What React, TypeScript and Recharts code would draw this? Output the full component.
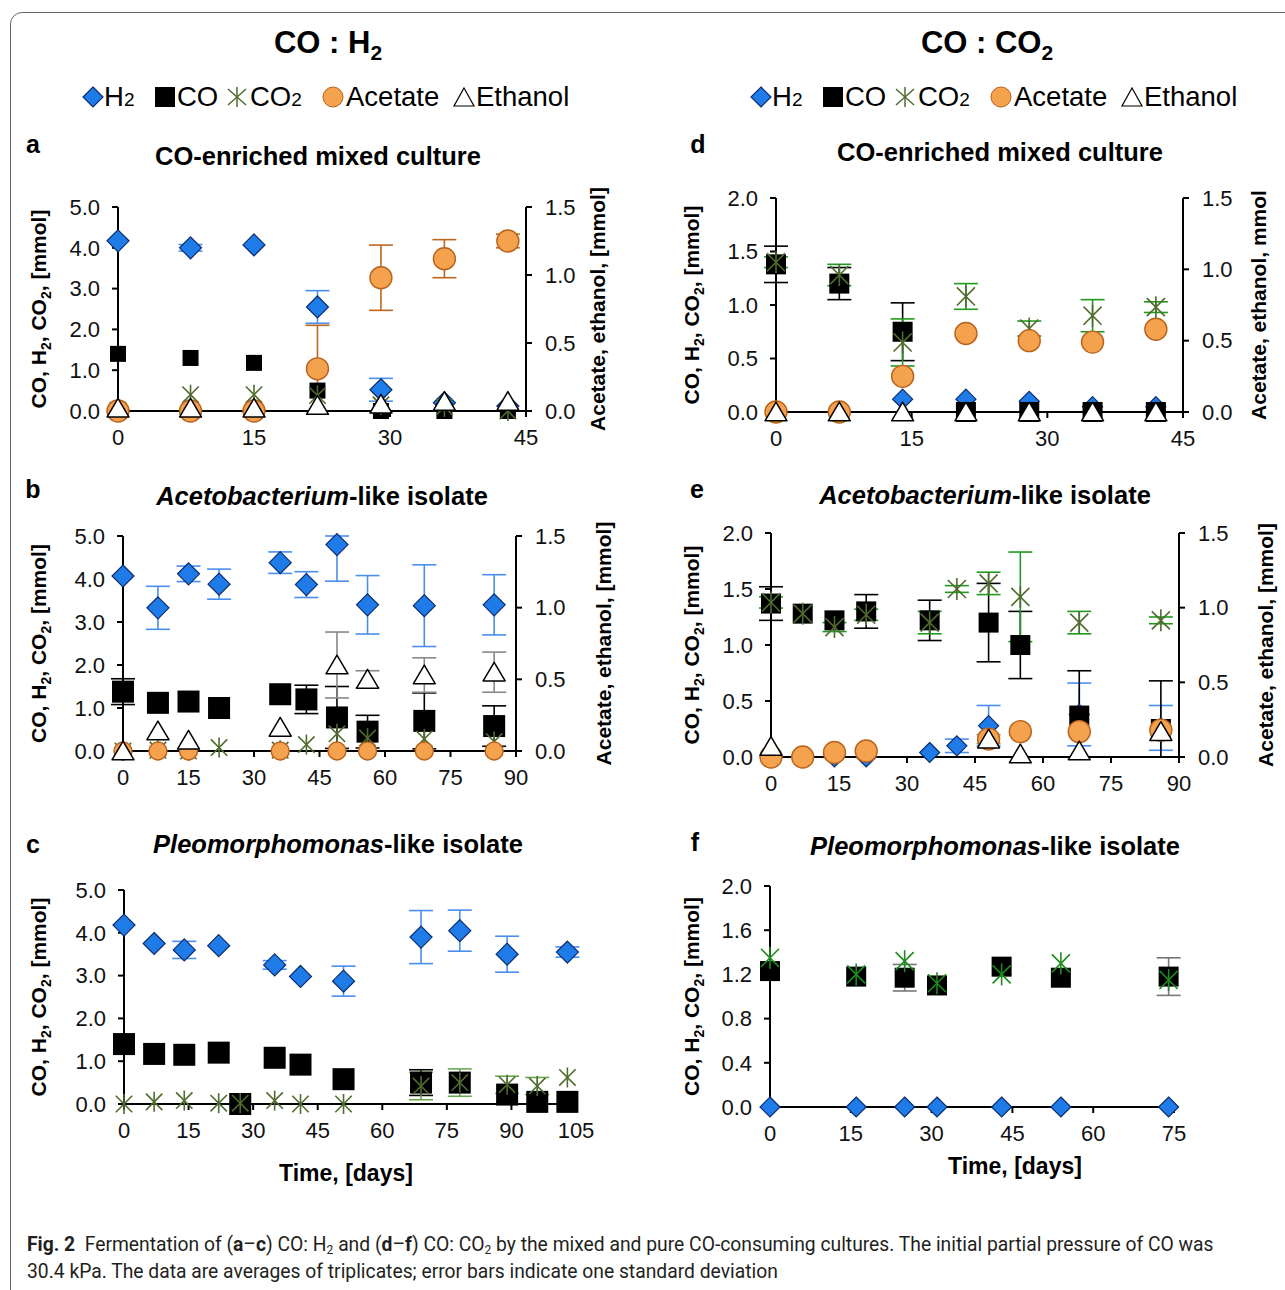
import React from "react";
import { ScatterChart, Scatter, XAxis, YAxis, ErrorBar } from "recharts";

const FONT = "'Liberation Sans', Arial, Helvetica, sans-serif";

// a – CO:H2, CO-enriched mixed culture (gases left axis, acetate/ethanol right axis)
const A_DAYS = [0, 8, 15, 22, 29, 36, 43];
const A_H2 = [4.17, 4.0, 4.07, 2.55, 0.52, 0.2, 0.12];
const A_H2_SD = [0, 0.08, 0, 0.4, 0.28, 0, 0];
const A_CO = [1.4, 1.3, 1.18, 0.5, 0.0, 0.0, 0.0];
const A_CO2 = [0.02, 0.4, 0.4, 0.38, 0.15, 0.1, 0.0];
const A_ACE = [0.0, 0.0, 0.0, 0.31, 0.98, 1.12, 1.25];
const A_ACE_SD = [0, 0, 0, 0.32, 0.24, 0.14, 0.05];
const A_ETH = [0.02, 0.02, 0.02, 0.04, 0.05, 0.07, 0.07];

// b – CO:H2, Acetobacterium-like isolate
const B_DAYS = [0, 8, 15, 22, 36, 42, 49, 56, 69, 85];
const B_H2 = [4.07, 3.33, 4.12, 3.88, 4.38, 3.87, 4.8, 3.4, 3.38, 3.4];
const B_H2_SD = [0, 0.5, 0.18, 0.35, 0.25, 0.3, 0.85, 0.68, 0.95, 0.7];
const B_CO = [1.38, 1.12, 1.15, 1.0, 1.32, 1.2, 0.78, 0.45, 0.7, 0.58];
const B_CO_SD = [0.3, 0, 0, 0, 0, 0.33, 0.72, 0.38, 0.65, 0.47];
const B_CO2 = [0.0, 0.02, 0.0, 0.08, 0.02, 0.15, 0.4, 0.3, 0.28, 0.22];
const B_ACE = [0.0, 0.0, 0.0, null, 0.0, null, 0.0, 0.0, 0.0, 0.0];
const B_ETH = [0.0, 0.14, 0.075, null, 0.165, null, 0.6, 0.5, 0.53, 0.55];
const B_ETH_SD = [0, 0, 0, 0, 0, 0, 0.23, 0.06, 0.12, 0.14];

// c – CO:H2, Pleomorphomonas-like isolate
const C_DAYS = [0, 7, 14, 22, 27, 35, 41, 51, 69, 78, 89, 96, 103];
const C_H2 = [4.18, 3.75, 3.6, 3.7, null, 3.25, 2.98, 2.87, 3.9, 4.05, 3.5, null, 3.55];
const C_H2_SD = [0, 0, 0.2, 0, 0, 0.1, 0, 0.35, 0.62, 0.48, 0.42, 0, 0.12];
const C_CO = [1.4, 1.17, 1.15, 1.2, 0.0, 1.08, 0.92, 0.58, 0.5, 0.5, 0.22, 0.05, 0.05];
const C_CO_SD = [0, 0, 0, 0, 0, 0, 0, 0, 0.3, 0, 0, 0, 0];
const C_CO2 = [0.0, 0.05, 0.08, 0.02, 0.02, 0.08, 0.0, 0.0, 0.42, 0.5, 0.45, 0.42, 0.62];
const C_CO2_SD = [0, 0, 0, 0, 0, 0, 0, 0, 0.32, 0.32, 0.2, 0.2, 0];

// d – CO:CO2, CO-enriched mixed culture
const D_DAYS = [0, 7, 14, 21, 28, 35, 42];
const D_H2 = [0.0, 0.0, 0.12, 0.12, 0.1, 0.05, 0.05];
const D_CO = [1.38, 1.2, 0.75, 0.0, 0.0, 0.0, 0.0];
const D_CO_SD = [0.17, 0.15, 0.27, 0, 0, 0, 0];
const D_CO2 = [1.4, 1.28, 0.65, 1.08, 0.78, 0.9, 0.98];
const D_CO2_SD = [0.05, 0.1, 0.22, 0.12, 0.07, 0.15, 0.05];
const D_ACE = [0.0, 0.0, 0.25, 0.55, 0.5, 0.49, 0.58];
const D_ETH = [0.0, 0.0, 0.0, 0.0, 0.0, 0.0, 0.0];

// e – CO:CO2, Acetobacterium-like isolate
const E_DAYS = [0, 7, 14, 21, 35, 41, 48, 55, 68, 86];
const E_H2 = [0.0, null, 0.0, 0.0, 0.04, 0.1, 0.28, null, 0.38, 0.26];
const E_H2_SD = [0, 0, 0, 0, 0, 0.06, 0.18, 0, 0.28, 0.2];
const E_CO = [1.37, 1.28, 1.22, 1.3, 1.22, null, 1.2, 1.0, 0.37, 0.25];
const E_CO_SD = [0.15, 0, 0, 0.15, 0.18, 0, 0.35, 0.3, 0.4, 0.43];
const E_CO2 = [1.38, 1.28, 1.16, 1.27, 1.2, 1.5, 1.55, 1.43, 1.2, 1.22];
const E_CO2_SD = [0.05, 0, 0.04, 0.05, 0.1, 0.03, 0.1, 0.4, 0.1, 0.03];
const E_ACE = [0.0, 0.0, 0.03, 0.04, null, null, 0.12, 0.17, 0.17, 0.18];
const E_ETH = [0.07, null, null, null, null, null, 0.12, 0.02, 0.04, 0.17];
const E_ETH_SD = [0, 0, 0, 0, 0, 0, 0.03, 0, 0, 0];

// f – CO:CO2, Pleomorphomonas-like isolate
const F_DAYS = [0, 16, 25, 31, 43, 54, 74];
const F_H2 = [0.0, 0.0, 0.0, 0.0, 0.0, 0.0, 0.0];
const F_CO = [1.23, 1.18, 1.17, 1.1, 1.27, 1.17, 1.18];
const F_CO_SD = [0, 0, 0.12, 0, 0, 0, 0.17];
const F_CO2 = [1.35, 1.2, 1.32, 1.12, 1.2, 1.3, 1.15];

// axis ticks
const X45 = [0, 15, 30, 45];
const X90 = [0, 15, 30, 45, 60, 75, 90];
const X105 = [0, 15, 30, 45, 60, 75, 90, 105];
const X75 = [0, 15, 30, 45, 60, 75];
const Y5 = [0, 1, 2, 3, 4, 5];
const Y2 = [0, 0.5, 1, 1.5, 2];
const Y2F = [0, 0.4, 0.8, 1.2, 1.6, 2];
const R15 = [0, 0.5, 1, 1.5];

type Val = number | null;
const pts = (days: number[], vals: Val[], sd: Val[] | undefined, max: number) =>
  days.flatMap((d, i) => {
    const v = vals[i];
    if (v == null) return [];
    const s = sd ? sd[i] ?? 0 : 0;
    // keep the bars inside the axis range, as in the original figure
    return [{ x: d, y: v, e: s ? [Math.min(s, v), Math.min(s, max - v)] : 0 }];
  });

// markers
const diamond = (r: number) => (p: any) => (
  <path d={`M${p.cx},${p.cy - r}L${p.cx + r},${p.cy}L${p.cx},${p.cy + r}L${p.cx - r},${p.cy}Z`}
    fill="#1f7be8" stroke="#0b2c6e" strokeWidth={1.2} />
);
const square = (h: number) => (p: any) => (
  <rect x={p.cx - h} y={p.cy - h} width={2 * h} height={2 * h} fill="#000" />
);
const star = (r: number, c: string) => (p: any) => {
  const d = r * 0.82;
  return (
    <g stroke={c} strokeWidth={1.6}>
      <line x1={p.cx - d} y1={p.cy - d} x2={p.cx + d} y2={p.cy + d} />
      <line x1={p.cx - d} y1={p.cy + d} x2={p.cx + d} y2={p.cy - d} />
      <line x1={p.cx} y1={p.cy - r} x2={p.cx} y2={p.cy + r} />
    </g>
  );
};
const circle = (r: number) => (p: any) => (
  <circle cx={p.cx} cy={p.cy} r={r} fill="#f5a24f" stroke="#b8621c" strokeWidth={1.4} />
);
const tri = (r: number) => (p: any) => (
  <path d={`M${p.cx},${p.cy - r * 0.9}L${p.cx + r},${p.cy + r * 0.8}L${p.cx - r},${p.cy + r * 0.8}Z`}
    fill="#fff" stroke="#000" strokeWidth={1.5} strokeLinejoin="round" />
);

const OLIVE = "#4f6b2e";
const BLUE_ERR = "#4a8ef0";
const ORANGE_ERR = "#c0651c";

type Series = { vals: Val[]; sd?: Val[]; right?: boolean; shape: (p: any) => React.ReactElement; err: string };
type Spec = {
  left: number; top: number; width: number; height: number;
  days: number[]; xMax: number; xTicks: number[];
  yMax: number; yTicks: number[]; rMax?: number; rTicks?: number[];
  leftW: number; rightW: number; xH: number;
  lDx: number; rDx?: number; rTitle?: string; xTitle?: { dx: number; dy: number };
  series: Series[];
};

const SUB = (t: string) => <tspan baselineShift="sub" fontSize={14}>{t}</tspan>;

const yTitle = (dx: number, content: React.ReactNode) => (p: any) => {
  const vb = p.viewBox || { x: 0, y: 0, height: 0 };
  const x = vb.x + dx;
  const y = vb.y + vb.height / 2;
  return (
    <text x={x} y={y} transform={`rotate(-90 ${x} ${y})`} textAnchor="middle" dominantBaseline="central"
      fontSize={21} fontWeight="bold" fontFamily={FONT} fill="#000">
      {content}
    </text>
  );
};

const xTitle = (dx: number, dy: number) => (p: any) => {
  const vb = p.viewBox || { x: 0, y: 0, width: 0 };
  return (
    <text x={vb.x + vb.width / 2 + dx} y={vb.y + dy} textAnchor="middle" dominantBaseline="central"
      fontSize={23} fontWeight="bold" fontFamily={FONT} fill="#000">
      Time, [days]
    </text>
  );
};

const LEFT_TITLE = <>CO, H{SUB("2")}, CO{SUB("2")}, [mmol]</>;
const AX = { stroke: "#000", strokeWidth: 2 };
const TICK = { fontSize: 22, fill: "#111", fontFamily: FONT };
const f1 = (v: number) => v.toFixed(1);

function Panel({ s }: { s: Spec }) {
  const hasR = s.rMax != null;
  return (
    <div style={{ position: "absolute", left: s.left, top: s.top }}>
      <ScatterChart width={s.width} height={s.height}
        margin={{ top: 20, right: hasR ? 0 : s.rightW, bottom: 0, left: 0 }}>
        <XAxis type="number" dataKey="x" domain={[0, s.xMax]} ticks={s.xTicks} interval={0}
          height={s.xH} axisLine={AX} tickLine={AX} tickSize={6} tickMargin={12} tick={TICK}
          label={s.xTitle ? xTitle(s.xTitle.dx, s.xTitle.dy) : undefined} />
        <YAxis yAxisId="L" type="number" dataKey="y" domain={[0, s.yMax]} ticks={s.yTicks} interval={0}
          width={s.leftW} axisLine={AX} tickLine={AX} tickSize={6} tickMargin={12} tick={TICK}
          tickFormatter={f1} label={yTitle(s.lDx, LEFT_TITLE)} />
        {hasR && (
          <YAxis yAxisId="R" orientation="right" type="number" dataKey="y" domain={[0, s.rMax!]}
            ticks={s.rTicks} interval={0} width={s.rightW} axisLine={AX} tickLine={AX} tickSize={6}
            tickMargin={13} tick={TICK} tickFormatter={f1} label={yTitle(s.rDx!, s.rTitle)} />
        )}
        {s.series.map((se, i) => (
          <Scatter key={i} data={pts(s.days, se.vals, se.sd, se.right ? s.rMax! : s.yMax)}
            yAxisId={se.right ? "R" : "L"} shape={se.shape} isAnimationActive={false}>
            <ErrorBar dataKey="e" direction="y" width={12} stroke={se.err} strokeWidth={1.6} />
          </Scatter>
        ))}
      </ScatterChart>
    </div>
  );
}

const PANELS: Spec[] = [
  {
    left: 20, top: 187, width: 610, height: 263, days: A_DAYS, xMax: 45, xTicks: X45,
    yMax: 5, yTicks: Y5, rMax: 1.5, rTicks: R15, leftW: 98, rightW: 104, xH: 39,
    lDx: 18, rDx: 71, rTitle: "Acetate, ethanol, [mmol]",
    series: [
      { vals: A_H2, sd: A_H2_SD, shape: diamond(11), err: BLUE_ERR },
      { vals: A_CO, shape: square(8), err: "#000" },
      { vals: A_CO2, shape: star(10, OLIVE), err: OLIVE },
      { vals: A_ACE, sd: A_ACE_SD, right: true, shape: circle(11), err: ORANGE_ERR },
      { vals: A_ETH, right: true, shape: tri(11), err: "#888" },
    ],
  },
  {
    left: 20, top: 516, width: 610, height: 274, days: B_DAYS, xMax: 90, xTicks: X90,
    yMax: 5, yTicks: Y5, rMax: 1.5, rTicks: R15, leftW: 103, rightW: 114, xH: 39,
    lDx: 18, rDx: 87, rTitle: "Acetate, ethanol, [mmol]",
    series: [
      { vals: B_H2, sd: B_H2_SD, shape: diamond(11), err: BLUE_ERR },
      { vals: B_CO, sd: B_CO_SD, shape: square(11), err: "#000" },
      { vals: B_CO2, shape: star(10, OLIVE), err: OLIVE },
      { vals: B_ACE, right: true, shape: circle(9), err: ORANGE_ERR },
      { vals: B_ETH, sd: B_ETH_SD, right: true, shape: tri(11), err: "#888" },
    ],
  },
  {
    left: 20, top: 870, width: 600, height: 320, days: C_DAYS, xMax: 105, xTicks: X105,
    yMax: 5, yTicks: Y5, leftW: 104, rightW: 44, xH: 86, lDx: 18, xTitle: { dx: -4, dy: 69 },
    series: [
      { vals: C_H2, sd: C_H2_SD, shape: diamond(11), err: BLUE_ERR },
      { vals: C_CO, sd: C_CO_SD, shape: square(11), err: "#000" },
      { vals: C_CO2, sd: C_CO2_SD, shape: star(10, OLIVE), err: "#6aa84f" },
    ],
  },
  {
    left: 675, top: 178, width: 610, height: 272, days: D_DAYS, xMax: 45, xTicks: X45,
    yMax: 2, yTicks: Y2, rMax: 1.5, rTicks: R15, leftW: 101, rightW: 102, xH: 38,
    lDx: 16, rDx: 75, rTitle: "Acetate, ethanol, mmol",
    series: [
      { vals: D_H2, shape: diamond(10), err: BLUE_ERR },
      { vals: D_CO, sd: D_CO_SD, shape: square(10), err: "#000" },
      { vals: D_CO2, sd: D_CO2_SD, shape: star(11, OLIVE), err: "#1f9a1f" },
      { vals: D_ACE, right: true, shape: circle(11), err: ORANGE_ERR },
      { vals: D_ETH, right: true, shape: tri(11), err: "#888" },
    ],
  },
  {
    left: 675, top: 513, width: 610, height: 282, days: E_DAYS, xMax: 90, xTicks: X90,
    yMax: 2, yTicks: Y2, rMax: 1.5, rTicks: R15, leftW: 96, rightW: 106, xH: 38,
    lDx: 16, rDx: 86, rTitle: "Acetate, ethanol, [mmol]",
    series: [
      { vals: E_H2, sd: E_H2_SD, shape: diamond(10), err: BLUE_ERR },
      { vals: E_CO, sd: E_CO_SD, shape: square(10), err: "#000" },
      { vals: E_CO2, sd: E_CO2_SD, shape: star(11, OLIVE), err: "#1f9a1f" },
      { vals: E_ACE, right: true, shape: circle(11), err: ORANGE_ERR },
      { vals: E_ETH, sd: E_ETH_SD, right: true, shape: tri(11), err: "#888" },
    ],
  },
  {
    left: 675, top: 866, width: 610, height: 324, days: F_DAYS, xMax: 75, xTicks: X75,
    yMax: 2, yTicks: Y2F, leftW: 95, rightW: 111, xH: 83, lDx: 16, xTitle: { dx: 43, dy: 59 },
    series: [
      { vals: F_H2, shape: diamond(10), err: BLUE_ERR },
      { vals: F_CO, sd: F_CO_SD, shape: square(10), err: "#777" },
      { vals: F_CO2, shape: star(11, "#1c8c1c"), err: "#1c8c1c" },
    ],
  },
];

function T({ x, y, size, bold, children, align = "center" }: any) {
  return (
    <div style={{
      position: "absolute", left: x, top: y, transform: `translate(${align === "center" ? "-50%" : "0"}, -50%)`,
      fontSize: size, fontWeight: bold ? 700 : 400, whiteSpace: "nowrap", lineHeight: 1, fontFamily: FONT, color: "#000",
    }}>{children}</div>
  );
}

function LegendRow({ x, y }: { x: number; y: number }) {
  const sm = { fontSize: 19 };
  const txt = (left: number, c: React.ReactNode) => (
    <span style={{ position: "absolute", left, top: 0, lineHeight: "32px", whiteSpace: "nowrap" }}>{c}</span>
  );
  return (
    <div style={{ position: "absolute", left: x, top: y - 16, height: 32, width: 500, fontSize: 27.5, fontFamily: FONT }}>
      <svg style={{ position: "absolute", left: 0, top: 5 }} width={22} height={22}>
        <path d="M11,1L21,11L11,21L1,11Z" fill="#1f7be8" stroke="#0b2c6e" strokeWidth={1.2} />
      </svg>
      {txt(22, <>H<span style={sm}>2</span></>)}
      <svg style={{ position: "absolute", left: 73, top: 6 }} width={20} height={20}>
        <rect x={0} y={0} width={20} height={20} fill="#000" />
      </svg>
      {txt(95, "CO")}
      <svg style={{ position: "absolute", left: 144, top: 5 }} width={22} height={22}>
        <g stroke={OLIVE} strokeWidth={1.5}>
          <line x1={2} y1={3} x2={20} y2={19} /><line x1={2} y1={19} x2={20} y2={3} /><line x1={11} y1={1} x2={11} y2={21} />
        </g>
      </svg>
      {txt(168, <>CO<span style={sm}>2</span></>)}
      <svg style={{ position: "absolute", left: 240, top: 5 }} width={22} height={22}>
        <circle cx={11} cy={11} r={10} fill="#f5a24f" stroke="#b8621c" strokeWidth={1} />
      </svg>
      {txt(264, "Acetate")}
      <svg style={{ position: "absolute", left: 370, top: 5 }} width={24} height={22}>
        <path d="M12,2L22,20L2,20Z" fill="#fff" stroke="#000" strokeWidth={1.2} />
      </svg>
      {txt(394, "Ethanol")}
    </div>
  );
}

export default function App() {
  const sub = { fontSize: 12, lineHeight: 0, verticalAlign: "-3px" } as const;
  return (
    <div style={{ position: "absolute", left: 0, top: 0, width: 1285, height: 1290, overflow: "hidden", background: "#fff", fontFamily: FONT }}>
      <div style={{ position: "absolute", left: 10, top: 12, width: 1320, height: 1320, border: "1px solid #666", borderRadius: 12 }} />

      <T x={328} y={45} size={31} bold>CO : H<span style={{ fontSize: 21, verticalAlign: "-7px" }}>2</span></T>
      <T x={987} y={45} size={31} bold>CO : CO<span style={{ fontSize: 21, verticalAlign: "-7px" }}>2</span></T>
      <LegendRow x={82} y={97} />
      <LegendRow x={750} y={97} />

      <T x={33} y={144} size={25} bold>a</T>
      <T x={33} y={489} size={25} bold>b</T>
      <T x={33} y={844} size={25} bold>c</T>
      <T x={698} y={144} size={25} bold>d</T>
      <T x={697} y={489} size={25} bold>e</T>
      <T x={695} y={842} size={25} bold>f</T>

      <T x={318} y={157} size={25.5} bold>CO-enriched mixed culture</T>
      <T x={322} y={497} size={25.5} bold><i>Acetobacterium</i>-like isolate</T>
      <T x={338} y={845} size={25.5} bold><i>Pleomorphomonas</i>-like isolate</T>
      <T x={1000} y={153} size={25.5} bold>CO-enriched mixed culture</T>
      <T x={985} y={496} size={25.5} bold><i>Acetobacterium</i>-like isolate</T>
      <T x={995} y={847} size={25.5} bold><i>Pleomorphomonas</i>-like isolate</T>

      {PANELS.map((s, i) => <Panel key={i} s={s} />)}

      <div style={{
        position: "absolute", left: 27, top: 1231, fontFamily: "Roboto, sans-serif", fontSize: 19.3, color: "#231f20",
        letterSpacing: 0, lineHeight: "27px", whiteSpace: "nowrap",
      }}>
        <div><b>Fig. 2</b>&nbsp;&nbsp;Fermentation of (<b>a</b>–<b>c</b>) CO: H<span style={sub}>2</span> and (<b>d</b>–<b>f</b>) CO: CO<span style={sub}>2</span> by the mixed and pure CO-consuming cultures. The initial partial pressure of CO was</div>
        <div>30.4 kPa. The data are averages of triplicates; error bars indicate one standard deviation</div>
      </div>
    </div>
  );
}
